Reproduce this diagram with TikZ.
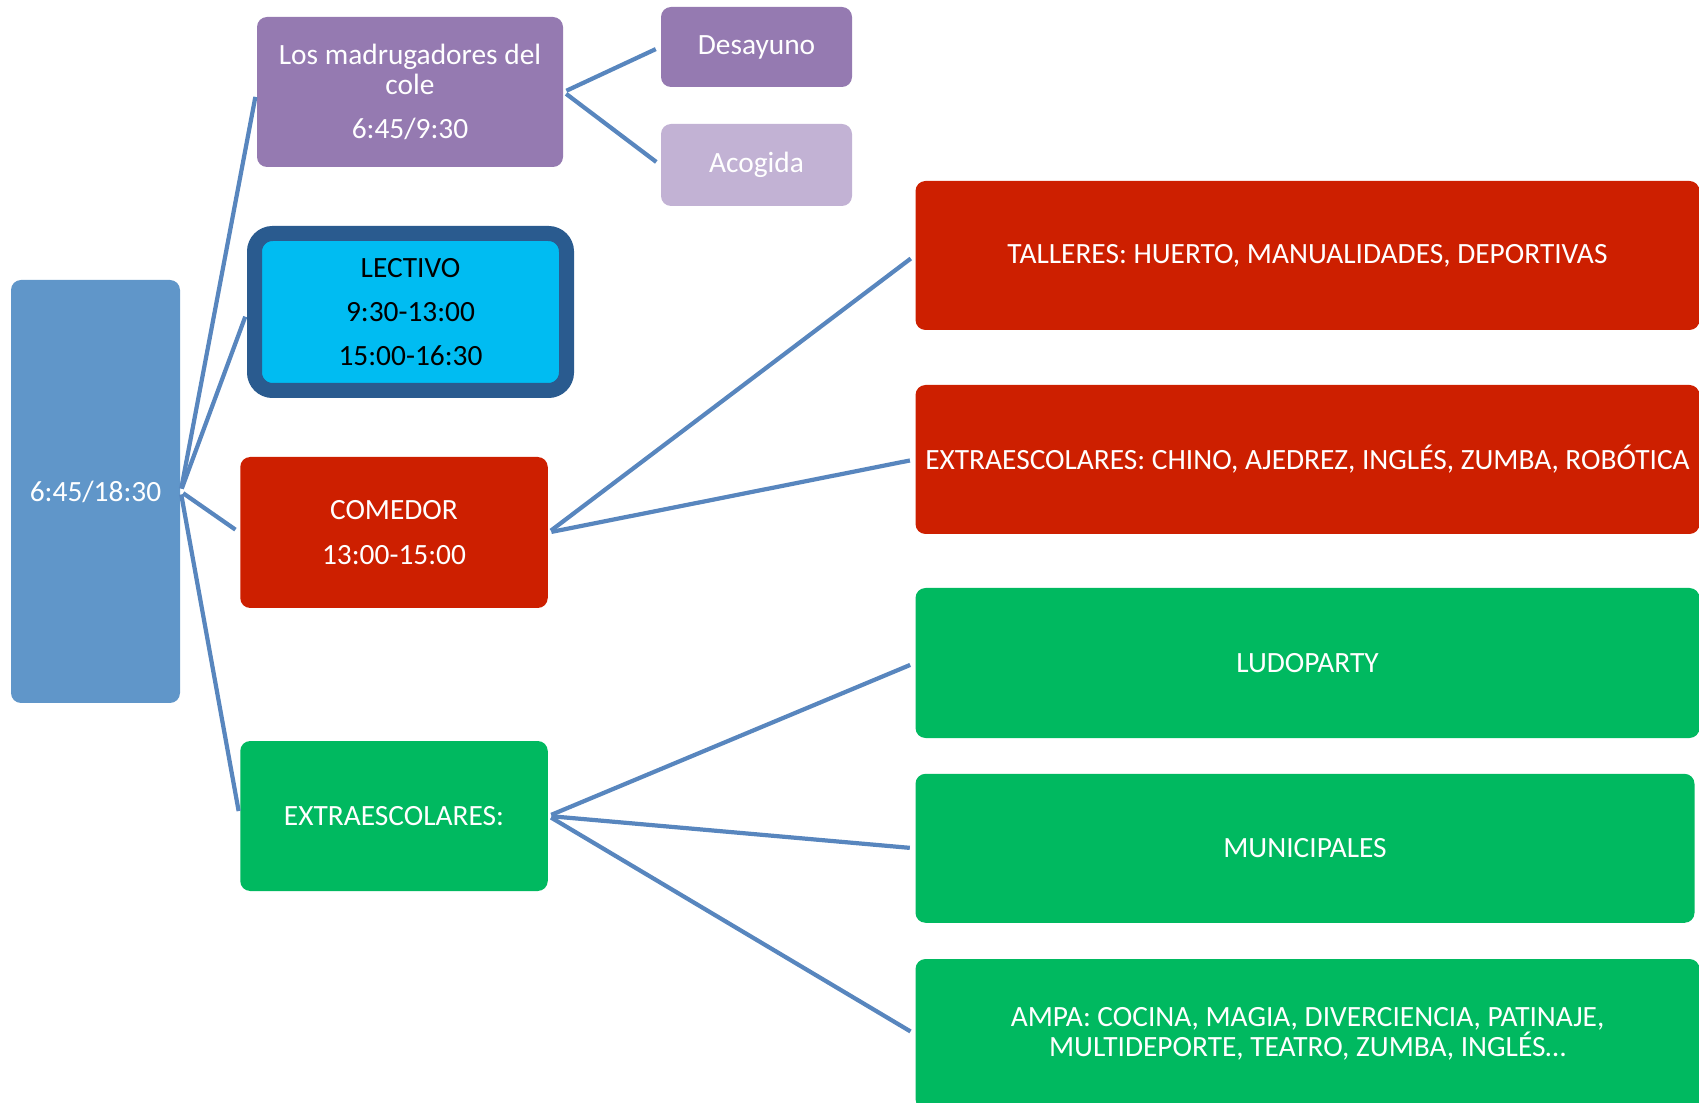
\documentclass[tikz,border=0pt]{standalone}
\usepackage{fontspec}
\setmainfont{Carlito}
\usepackage{xcolor}
\usetikzlibrary{positioning}

\definecolor{rootblue}{HTML}{6096C9}
\definecolor{purpleA}{HTML}{957AB1}
\definecolor{purpleB}{HTML}{C2B2D4}
\definecolor{cyanfill}{HTML}{00BCF2}
\definecolor{darkblue}{HTML}{2A5B8F}
\definecolor{boxred}{HTML}{CD1F00}
\definecolor{boxgreen}{HTML}{00B960}
\definecolor{linkblue}{HTML}{5886BE}

\tikzset{
    box/.style={rectangle,rounded corners=0.1cm,inner sep=2pt,align=center,text=white,font=\fontsize{8.36}{8.6}\selectfont},
    link/.style={draw=linkblue,line width=1.2pt,shorten <=0.03cm,shorten >=0.05cm}
}

\begin{document}
\begin{tikzpicture}
    \useasboundingbox (0,0) rectangle (16.99,-11.03);
    \clip (0,0) rectangle (16.99,-11.03);
    % left column
    \node[box,fill=rootblue,minimum width=1.69cm,minimum height=4.23cm] (root) at (0.955,-4.915) {6:45/18:30};
    \node[box,fill=purpleA,minimum width=3.06cm,minimum height=1.50cm] (madrug) at (4.10,-0.92) {Los madrugadores del\\cole\\[4pt]6:45/9:30};
    \node[box,fill=cyanfill,draw=darkblue,line width=0.15cm,rounded corners=0.18cm,text=black,minimum width=3.12cm,minimum height=1.57cm] (lectivo) at (4.105,-3.12) {LECTIVO\\[4pt]9:30-13:00\\[4pt]15:00-16:30};
    \node[box,fill=boxred,minimum width=3.075cm,minimum height=1.51cm] (comedor) at (3.94,-5.325) {COMEDOR\\[4pt]13:00-15:00};
    \node[box,fill=boxgreen,minimum width=3.075cm,minimum height=1.50cm] (extra) at (3.94,-8.16) {EXTRAESCOLARES:};
    % madrugadores
    \node[box,fill=purpleA,minimum width=1.91cm,minimum height=0.80cm] (desayuno) at (7.565,-0.47) {Desayuno};
    \node[box,fill=purpleB,minimum width=1.91cm,minimum height=0.82cm] (acogida) at (7.565,-1.65) {Acogida};
    % right column
    \node[box,fill=boxred,minimum width=7.84cm,minimum height=1.49cm] (talleres) at (13.075,-2.555) {TALLERES: HUERTO, MANUALIDADES, DEPORTIVAS};
    \node[box,fill=boxred,minimum width=7.84cm,minimum height=1.49cm] (extrarojo) at (13.075,-4.595) {EXTRAESCOLARES: CHINO, AJEDREZ, INGLÉS, ZUMBA, ROBÓTICA};
    \node[box,fill=boxgreen,minimum width=7.84cm,minimum height=1.50cm] (ludo) at (13.075,-6.63) {LUDOPARTY};
    \node[box,fill=boxgreen,minimum width=7.79cm,minimum height=1.49cm] (munic) at (13.05,-8.483) {MUNICIPALES};
    \node[box,fill=boxgreen,minimum width=7.84cm,minimum height=1.50cm] (ampa) at (13.075,-10.34) {AMPA: COCINA, MAGIA, DIVERCIENCIA, PATINAJE,\\MULTIDEPORTE, TEATRO, ZUMBA, INGLÉS…};
    % connectors
    \foreach \child in {madrug,lectivo,comedor,extra}
        \draw[link] (root.east) -- (\child.west);
    \foreach \child in {desayuno,acogida}
        \draw[link] (madrug.east) -- (\child.west);
    \foreach \child in {talleres,extrarojo}
        \draw[link] (comedor.east) -- (\child.west);
    \foreach \child in {ludo,munic,ampa}
        \draw[link] (extra.east) -- (\child.west);
\end{tikzpicture}
\end{document}
